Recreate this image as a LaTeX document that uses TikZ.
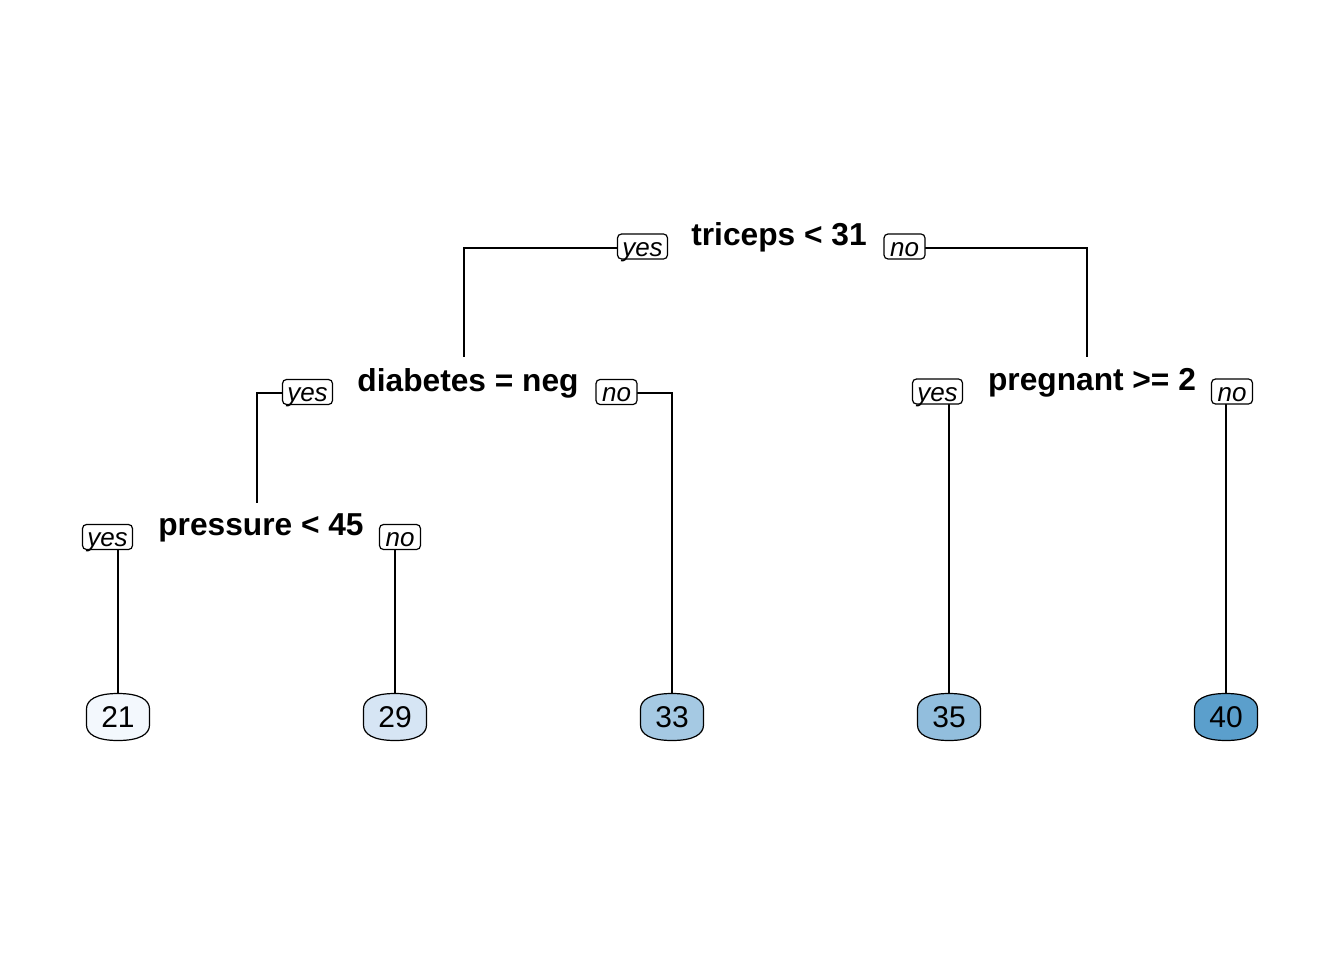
\documentclass[tikz,border=0pt]{standalone}
\usepackage{fontspec}
\setmainfont{Liberation Sans}
\definecolor{c21}{HTML}{F3F8FD}
\definecolor{c29}{HTML}{D6E5F4}
\definecolor{c33}{HTML}{A5C9E3}
\definecolor{c35}{HTML}{92BEDD}
\definecolor{c40}{HTML}{5B9FCC}
\begin{document}
\begin{tikzpicture}[x=1pt,y=-1pt,
  conn/.style={line width=1.3pt},
  split/.style={font=\fontsize{31.7}{31.7}\selectfont\bfseries, inner sep=0pt, anchor=base},
  lab/.style={draw, line width=1.2pt, rounded corners=4pt, inner sep=0pt, minimum height=25pt, fill=white,
              text height=19pt, text depth=0pt, font=\fontsize{26}{26}\selectfont\itshape},
  yesbox/.style={lab, minimum width=50pt},
  nobox/.style={lab, minimum width=41pt},
  leaftext/.style={inner sep=0pt, minimum width=63pt, minimum height=47pt, font=\fontsize{30}{30}\selectfont},
  barrel/.style={draw, line width=1.2pt}
]
\useasboundingbox (0,0) rectangle (1344,960);

% leaf centres
\coordinate (c21) at (118,717);
\coordinate (c29) at (395,717);
\coordinate (c33) at (672,717);
\coordinate (c35) at (949,717);
\coordinate (c40) at (1226,717);
\foreach \p/\c in {c21/c21,c29/c29,c33/c33,c35/c35,c40/c40}{
  \draw[barrel, fill=\c, shift={(\p)}] (-31.5,-8) .. controls (-31.5,-17) and (-22,-23.5) .. (0,-23.5)
     .. controls (22,-23.5) and (31.5,-17) .. (31.5,-8) -- (31.5,8)
     .. controls (31.5,17) and (22,23.5) .. (0,23.5)
     .. controls (-22,23.5) and (-31.5,17) .. (-31.5,8) -- cycle;
}
\node[leaftext] (l21) at (c21) {21};
\node[leaftext] (l29) at (c29) {29};
\node[leaftext] (l33) at (c33) {33};
\node[leaftext] (l35) at (c35) {35};
\node[leaftext] (l40) at (c40) {40};

% split labels
\node[split] (tri) at (779,245) {triceps < 31};
\node[split] (dia) at (468,391) {diabetes = neg};
\node[split] (pre) at (1092,390) {pregnant >= 2};
\node[split] (pres) at (261,535) {pressure < 45};

% junction points above the child split labels
\coordinate (diatop) at (464,357);
\coordinate (pretop) at (1087,357);
\coordinate (prestop) at (257,503);

% connectors (drawn first, boxes on top)
\draw[conn] (642,248) coordinate (tyesc) -| (diatop);
\draw[conn] (904,248) coordinate (tnoc) -| (pretop);
\draw[conn] (307,393) coordinate (dyesc) -| (prestop);
\draw[conn] (616,393) coordinate (dnoc) -| (l33.north);
\draw[conn] (l35.north) -- (l35.north |- 0,391);
\draw[conn] (l40.north) -- (l40.north |- 0,391);
\draw[conn] (l21.north) -- (l21.north |- 0,536);
\draw[conn] (l29.north) -- (l29.north |- 0,536);

% yes / no boxes
\node[yesbox] (tyes) at (642.5,246.5) {yes};
\node[nobox]  (tno)  at (904.5,246.5) {no};
\node[yesbox] (dyes) at (307.5,392) {yes};
\node[nobox]  (dno)  at (616.5,392) {no};
\node[yesbox] (pyes) at (937.5,391.5) {yes};
\node[nobox]  (pno)  at (1232,391.5) {no};
\node[yesbox] (ryes) at (107.5,537) {yes};
\node[nobox]  (rno)  at (400,537) {no};
\end{tikzpicture}
\end{document}
